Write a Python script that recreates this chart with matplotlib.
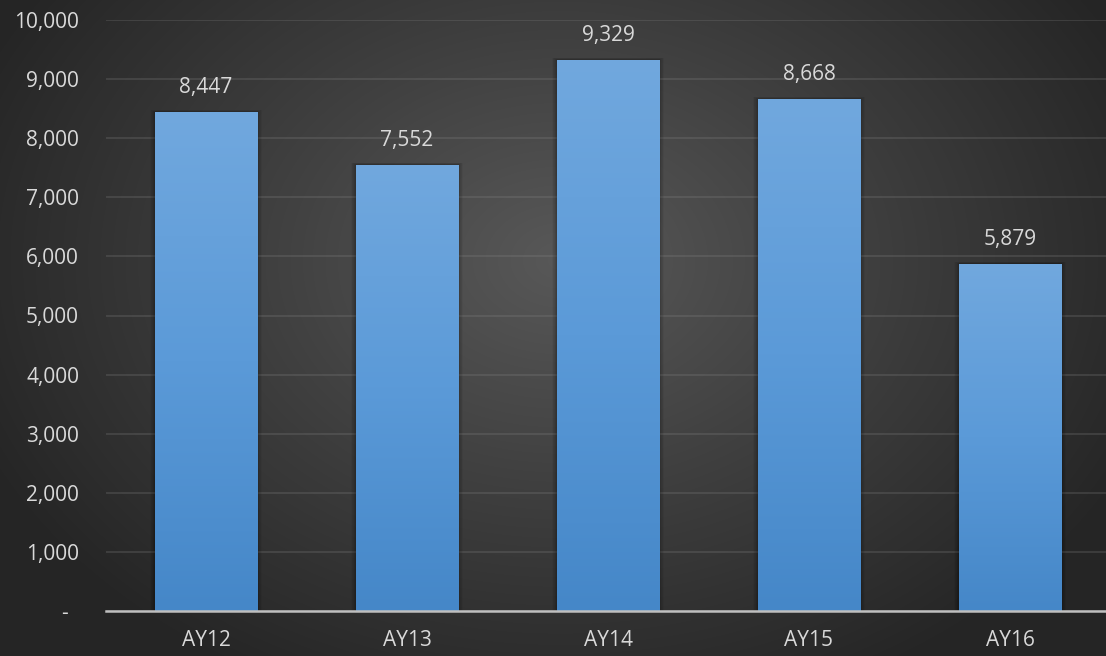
import numpy as np
import matplotlib.pyplot as plt
from matplotlib.colors import LinearSegmentedColormap
from matplotlib.ticker import FuncFormatter

plt.rcParams['font.family'] = ['Open Sans', 'DejaVu Sans']

# enrollment by academic year
years = ['AY12', 'AY13', 'AY14', 'AY15', 'AY16']
counts = [8447, 7552, 9329, 8668, 5879]

fig = plt.figure(figsize=(11.06, 6.56), dpi=100)

# dark radial background
bg = fig.add_axes([0, 0, 1, 1], zorder=-10)
yy, xx = np.mgrid[0:656, 0:1106]
r = np.sqrt(((xx - 560) / 640.0) ** 2 + ((yy - 260) / 480.0) ** 2)
r = np.clip(r, 0, 1)
bg_cmap = LinearSegmentedColormap.from_list('bg', ['#585858', '#3e3e3e', '#252525'])
bg.imshow(r, cmap=bg_cmap, aspect='auto', extent=(0, 1, 0, 1), origin='upper')
bg.axis('off')

ax = fig.add_axes([105.5 / 1106, 45 / 656, 1005 / 1106, 591 / 656])
ax.patch.set_alpha(0)

x = np.arange(len(years))
width = 0.51
bars = ax.bar(x, counts, width=width, color='none', edgecolor='none', zorder=3)

bar_cmap = LinearSegmentedColormap.from_list('bar', ['#4587c8', '#5b9ad8', '#71a8de'])
grad = np.linspace(0, 1, 256).reshape(-1, 1)
for xi, val, rect in zip(x, counts, bars):
    # soft shadow around each bar
    for k in np.linspace(0.002, 0.022, 8):
        sh = plt.Rectangle((xi - width / 2 - k, 0), width + 2 * k, val + k * 1500,
                           facecolor='black', alpha=0.035, edgecolor='none', zorder=2)
        ax.add_patch(sh)
    im = ax.imshow(grad, cmap=bar_cmap, aspect='auto', origin='lower',
                   extent=(xi - width / 2, xi + width / 2, 0, val), zorder=3)
    im.set_clip_path(rect)
    ax.annotate(f'{val:,}', (xi, val), xytext=(0, 10), textcoords='offset points',
                ha='center', va='bottom', fontsize=15, color='#d9d9d9')

ax.set_xlim(-0.5, len(years) - 0.5)
ax.set_ylim(0, 10000)
ax.set_yticks(np.arange(0, 10001, 1000))
ax.yaxis.set_major_formatter(FuncFormatter(lambda v, p: '-  ' if v == 0 else f'{int(v):,}'))
ax.set_xticks(x)
ax.set_xticklabels(years)

ax.grid(axis='y', color='#8a8a8a', linewidth=1.3, alpha=0.25, zorder=0)
ax.set_axisbelow(True)
for s in ['top', 'right', 'left']:
    ax.spines[s].set_visible(False)
ax.spines['bottom'].set_color('#bfbfbf')
ax.spines['bottom'].set_linewidth(1.8)
ax.spines['bottom'].set_zorder(4)

ax.tick_params(axis='y', length=0, pad=19, labelsize=15, labelcolor='#d9d9d9')
ax.tick_params(axis='x', length=0, pad=14, labelsize=15, labelcolor='#d9d9d9')

fig.savefig('out.png', dpi=100)
